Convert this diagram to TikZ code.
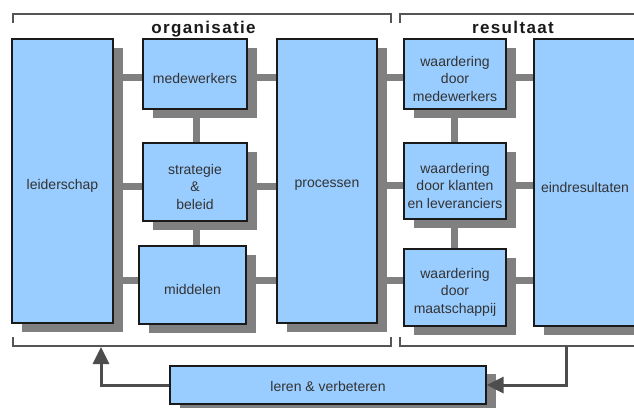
\documentclass[tikz,border=0pt]{standalone}
\usepackage{fontspec}
\setmainfont{Liberation Sans}
\usetikzlibrary{shadows,arrows.meta,backgrounds}
\definecolor{boxblue}{HTML}{99CCFF}
\definecolor{shadowgray}{HTML}{808080}
\definecolor{txtgray}{HTML}{333333}
\definecolor{brk}{HTML}{555555}
\definecolor{arrgray}{HTML}{4D4D4D}
\definecolor{edgec}{HTML}{1A1A1A}
\begin{document}
\begin{tikzpicture}[x=1pt,y=-1pt,
 blok/.style={draw=edgec, line width=1.2pt, fill=boxblue, inner sep=0pt,
   drop shadow={shadow xshift=10pt, shadow yshift=-9pt, fill=shadowgray, opacity=1}},
 lbl/.style={align=center, text=txtgray, font=\fontsize{14}{17.5}\selectfont, inner sep=0pt, yshift=-4.5pt},
 conn/.style={shadowgray, line width=7pt},
 brack/.style={brk, line width=2pt},
 arr/.style={arrgray, line width=3pt, -{Triangle[length=17pt,width=16pt]}},
 titel/.style={font=\fontsize{17}{20}\selectfont\bfseries\addfontfeature{LetterSpace=8}, text=edgec, anchor=base, inner sep=0pt}]
\useasboundingbox (0,0) rectangle (634,407);
\clip (0,0) rectangle (634,407);

% brackets
\draw[brack] (13,23) -- (13,14) -- (391,14) -- (391,23);
\draw[brack] (400,23) -- (400,14) -- (640,14);
\draw[brack] (13,337) -- (13,346) -- (391,346) -- (391,337);
\draw[brack] (400,337) -- (400,346) -- (640,346);

\node[titel] (torg) at (203.5,33) {organisatie};
\node[titel] (tres) at (513,33) {resultaat};

% boxes
\node[blok, minimum width=101pt, minimum height=284pt, label={[lbl]center:leiderschap}] (leider) at (62.5,181) {};
\node[blok, minimum width=104pt, minimum height=70pt, label={[lbl]center:medewerkers}] (mede) at (195,74) {};
\node[blok, minimum width=104pt, minimum height=78pt, label={[lbl]center:strategie\\\&\\beleid}] (strat) at (195,182) {};
\node[blok, minimum width=107pt, minimum height=78pt, label={[lbl]center:middelen}] (midd) at (192.5,285) {};
\node[blok, minimum width=100pt, minimum height=284pt, label={[lbl]center:processen}] (proc) at (327,181) {};
\node[blok, minimum width=102pt, minimum height=70pt, label={[lbl]center:waardering\\door\\medewerkers}] (wmede) at (455,74) {};
\node[blok, minimum width=102pt, minimum height=76pt, label={[lbl]center:waardering\\door klanten\\en leveranciers}] (wklant) at (455,181) {};
\node[blok, minimum width=102pt, minimum height=77pt, label={[lbl]center:waardering\\door\\maatschappij}] (wmaat) at (455,287.5) {};
\node[blok, minimum width=102pt, minimum height=287pt, label={[lbl]center:eindresultaten}] (eind) at (585,182.5) {};
\node[blok, minimum width=316pt, minimum height=38pt, drop shadow={shadow xshift=10pt, shadow yshift=-8pt, fill=shadowgray, opacity=1}, label={[lbl, yshift=3pt]center:leren \& verbeteren}] (leren) at (328,385) {};

% helper coordinates
\coordinate (r1) at (0,77.5);
\coordinate (r2) at (0,186);
\coordinate (r3) at (0,280);
\coordinate (s2) at (0,185);
\coordinate (vc1) at (196,0);
\coordinate (vc2) at (454,0);
\coordinate (bra) at (566,346);
\coordinate (tipL) at (101,347);

\begin{scope}[on background layer]
 \fill[white] (0,0) rectangle (634,407);
 \draw[conn] (leider.center |- r1) -- (proc.center |- r1);
 \draw[conn] (leider.center |- r2) -- (proc.center |- r2);
 \draw[conn] (leider.center |- r3) -- (proc.center |- r3);
 \draw[conn] (proc.center |- r1) -- (eind.center |- r1);
 \draw[conn] (proc.center |- s2) -- (eind.center |- s2);
 \draw[conn] (proc.center |- r3) -- (eind.center |- r3);
 \draw[conn] (vc1 |- mede.center) -- (vc1 |- midd.center);
 \draw[conn] (vc2 |- wmede.center) -- (vc2 |- wmaat.center);
\end{scope}

% feedback arrows
\draw[arr] (leren.west) -| (tipL);
\draw[arr] (bra) |- (leren.east);
\end{tikzpicture}
\end{document}
